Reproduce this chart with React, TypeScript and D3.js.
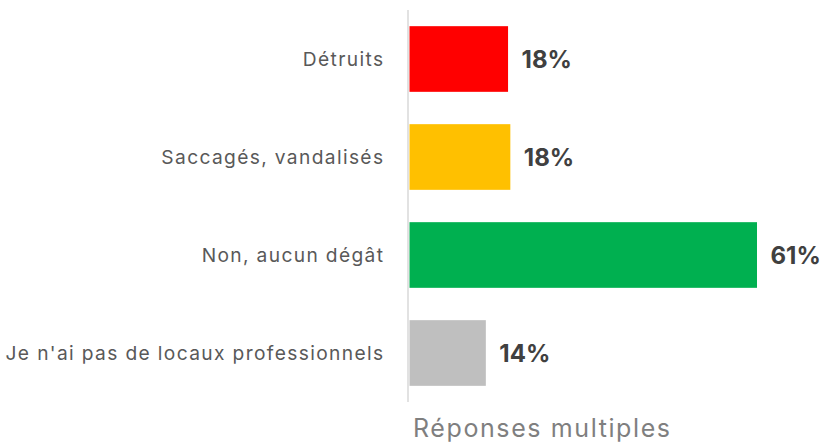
import React from "react";
import * as d3 from "d3";

const categories = [
  "Détruits",
  "Saccagés, vandalisés",
  "Non, aucun dégât",
  "Je n'ai pas de locaux professionnels",
];
const values = [17.3, 17.7, 61.0, 13.4];
const valueLabels = ["18%", "18%", "61%", "14%"];
const colors = ["#FF0000", "#FFC000", "#00B050", "#BFBFBF"];
const note = "Réponses multiples";

const W = 823;
const H = 442;
const FONT = "Inter, 'Noto Sans', sans-serif";

export default function App() {
  const x = d3.scaleLinear().domain([0, 61]).range([409.5, 757]);
  const y = d3
    .scaleBand<string>()
    .domain(categories)
    .range([10, 402])
    .paddingInner(0.33)
    .paddingOuter(0.165);

  return (
    <svg
      width={W}
      height={H}
      style={{ position: "absolute", left: 0, top: 0, background: "#fff" }}
    >
      {categories.map((c, i) => {
        const yy = y(c)!;
        const bw = y.bandwidth();
        const cy = yy + bw / 2;
        return (
          <g key={c}>
            <rect
              x={x(0)}
              y={yy}
              width={x(values[i]) - x(0)}
              height={bw}
              fill={colors[i]}
            />
            <text
              x={384.4}
              y={cy}
              dy="0.35em"
              textAnchor="end"
              fontFamily={FONT}
              fontSize={19.2}
              letterSpacing={1.35}
              fill="#595959"
            >
              {c}
            </text>
            <text
              x={x(values[i]) + 13.5}
              y={cy}
              dy="0.36em"
              fontFamily={FONT}
              fontSize={24}
              fontWeight={700}
              fill="#404040"
            >
              {valueLabels[i]}
            </text>
          </g>
        );
      })}
      <line x1={408} x2={408} y1={10} y2={402} stroke="#D9D9D9" strokeWidth={1.5} />
      <text
        x={413}
        y={437}
        fontFamily={FONT}
        fontSize={25}
        letterSpacing={1.6}
        fill="#7F7F7F"
      >
        {note}
      </text>
    </svg>
  );
}
